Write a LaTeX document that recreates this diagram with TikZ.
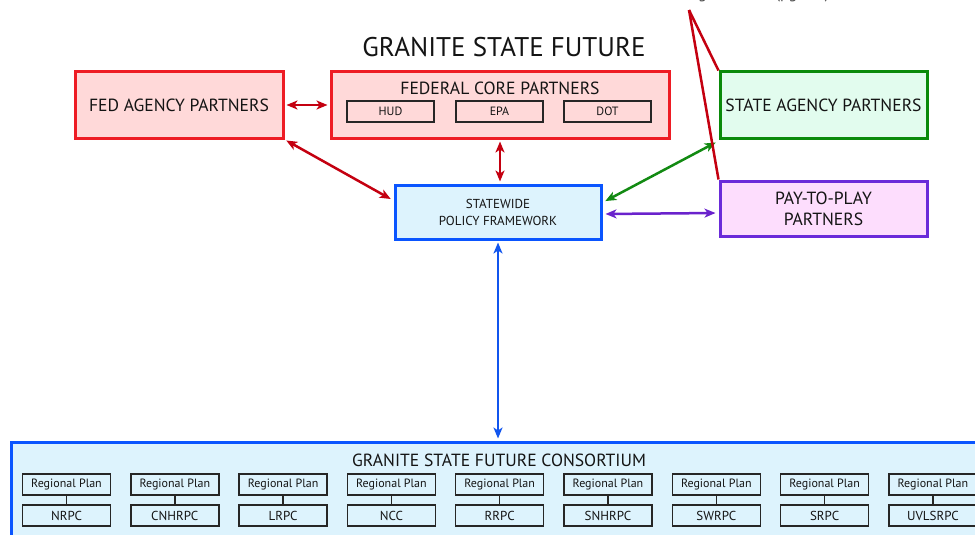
\documentclass[tikz,border=0pt]{standalone}
\usepackage{fontspec}
\setmainfont{PT Sans}
\usetikzlibrary{arrows.meta,calc}
\definecolor{redB}{HTML}{EE1C24}
\definecolor{redF}{HTML}{FFD9D9}
\definecolor{redA}{HTML}{C40010}
\definecolor{greenB}{HTML}{0A8A0A}
\definecolor{greenF}{HTML}{E2FCEE}
\definecolor{greenA}{HTML}{128A12}
\definecolor{purpB}{HTML}{6A2BD9}
\definecolor{purpF}{HTML}{FDDDFD}
\definecolor{purpA}{HTML}{6A22CC}
\definecolor{blueB}{HTML}{0A55FF}
\definecolor{blueF}{HTML}{DDF3FD}
\definecolor{blueA}{HTML}{1155EE}
\begin{document}
\begin{tikzpicture}[x=1pt,y=-1pt,
  bigbox/.style={line width=3pt, inner sep=0pt, align=center, font=\fontsize{17.6}{21}\selectfont, text=black!92},
  smallbox/.style={draw=black!85, line width=1.4pt, inner sep=0pt, minimum width=88, minimum height=21, font=\fontsize{12}{14}\selectfont, text=black!92},
  link/.style={line width=2.5pt, {Stealth[length=11pt,width=9pt,inset=3pt]}-{Stealth[length=11pt,width=9pt,inset=3pt]}, shorten >=2pt, shorten <=2pt},
  callout/.style={draw=redA, line width=2.5pt}
]
\useasboundingbox (0,0) rectangle (975,535);
\clip (0,0) rectangle (975,535);

% clipped caption at top
\node[anchor=base, text=black!70, font=\fontsize{16}{18}\selectfont] (fs) at (740,-1) {Funding Schemes (pg 4-5)};

% title
\node[font=\fontsize{27}{30}\selectfont, text=black!92] (title) at (504,47) {GRANITE STATE FUTURE};

% federal boxes
\node[bigbox, draw=redB, fill=redF, minimum width=208, minimum height=66] (fa) at (179,105) {FED AGENCY PARTNERS};
\node[bigbox, draw=redB, fill=redF, minimum width=338, minimum height=66] (fc) at (500,105) {};
\node[font=\fontsize{17.6}{21}\selectfont, text=black!92] (fct) at (500,88) {FEDERAL CORE PARTNERS};
\node[smallbox, fill=redF, minimum width=87] (hud) at (390.5,111.5) {HUD};
\node[smallbox, fill=redF, minimum width=87] (epa) at (499.5,111.5) {EPA};
\node[smallbox, fill=redF, minimum width=87] (dot) at (607.5,111.5) {DOT};

% state / pay boxes
\node[bigbox, draw=greenB, fill=greenF, minimum width=207, minimum height=66] (sa) at (823.5,105) {STATE AGENCY PARTNERS};
\node[bigbox, draw=purpB, fill=purpF, minimum width=207, minimum height=55] (pp) at (823.5,208.5) {PAY-TO-PLAY\\PARTNERS};

% statewide policy framework
\node[bigbox, draw=blueB, fill=blueF, minimum width=206, minimum height=54, font=\fontsize{13}{17}\selectfont] (spf) at (498,212) {STATEWIDE\\POLICY FRAMEWORK};

% consortium
\node[bigbox, draw=blueB, fill=blueF, minimum width=984, minimum height=158] (gsc) at (503,521) {};
\node[font=\fontsize{17.6}{21}\selectfont, text=black!92] (gsct) at (499,460) {GRANITE STATE FUTURE CONSORTIUM};
\foreach \i/\nm in {0/NRPC,1/CNHRPC,2/LRPC,3/NCC,4/RRPC,5/SNHRPC,6/SWRPC,7/SRPC,8/UVLSRPC}{
  \node[smallbox, fill=blueF] (rp\i) at ({66.5+108.3*\i},484.5) {Regional Plan};
  \node[smallbox, fill=blueF, font=\fontsize{13}{15}\selectfont] (cd\i) at ({66.5+108.3*\i},515.5) {\nm};
  \draw[black!85, line width=1.4pt] (rp\i.south) -- (cd\i.north);
}

% connectors
\draw[link, redA] (fa.east) -- (fc.west);
\draw[link, redA] (fa.south east) -- ($(spf.west)+(-1,-12)$);
\draw[link, redA] (fc.south) -- (spf.north -| fc.south);
\draw[link, greenA] ($(spf.east)+(1,-10)$) -- ($(sa.south west)+(-1,2)$);
\draw[link, purpA] ($(spf.east)+(1,2)$) -- ($(pp.west)+(-1,4.5)$);
\draw[link, blueA] (spf.south) -- (gsc.north -| spf.south);

% callout lines
\coordinate (apex) at (689,10);
\draw[callout] (apex) -- (sa.north west);
\draw[callout] (apex) -- (pp.north west);
\end{tikzpicture}
\end{document}
